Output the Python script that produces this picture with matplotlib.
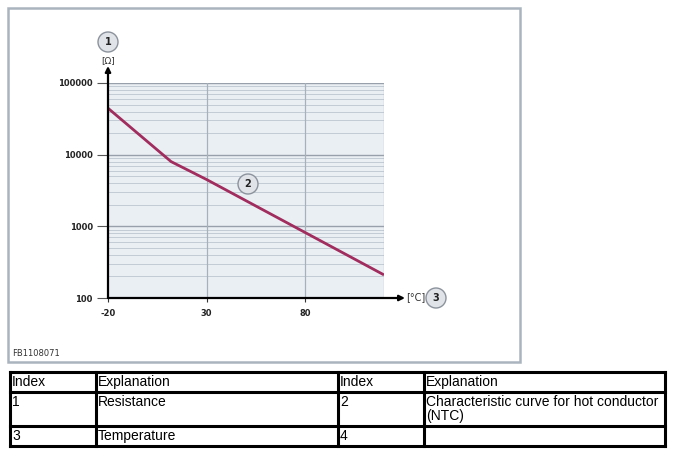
import numpy as np
import matplotlib
matplotlib.use("Agg")
import matplotlib.pyplot as plt
from matplotlib.patches import Rectangle, Ellipse
from matplotlib.lines import Line2D

W, H = 673, 457

# curve data
temp = [-20, 12, 30, 80, 120]          # °C
resist = [44500, 8000, 4500, 820, 210]  # Ohm

x_ticks = [-20, 30, 80]
y_ticks = [100, 1000, 10000, 100000]
v_grid = [30, 80, 120]

# table content
table_rows = [
    ["Index", "Explanation", "Index", "Explanation"],
    ["1", "Resistance", "2", "Characteristic curve for hot conductor\n(NTC)"],
    ["3", "Temperature", "4", ""],
]
col_x = [10, 96, 338, 424, 665]
row_y = [372, 392, 426, 446]


def fx(x):
    return x / W


def fy(y):
    return 1 - y / H


fig = plt.figure(figsize=(W / 100, H / 100), dpi=100)
fig.patch.set_facecolor("white")

# plot area in pixels
L, R, T, B = 108, 384, 83, 298
ax = fig.add_axes([fx(L), fy(B), (R - L) / W, (B - T) / H])
ax.set_yscale("log")
ax.set_xlim(-20, 120)
ax.set_ylim(100, 100000)
ax.set_facecolor("#eaeff4")

# horizontal grid
for dec in [100, 1000, 10000]:
    for m in range(2, 10):
        ax.axhline(dec * m, color="#c2cad3", lw=0.7, zorder=1)
for yv in y_ticks[1:]:
    ax.axhline(yv, color="#98a1ab", lw=1.0, zorder=1)
for xv in v_grid:
    ax.axvline(xv, color="#a8b0ba", lw=0.9, zorder=1)

ax.plot(temp, resist, color="#a12c5e", lw=2.0, zorder=3, solid_capstyle="butt")

for s in ["top", "right", "left", "bottom"]:
    ax.spines[s].set_visible(False)

ax.set_xticks(x_ticks)
ax.set_xticklabels([str(v) for v in x_ticks])
ax.set_yticks(y_ticks)
ax.set_yticklabels([str(v) for v in y_ticks])
ax.minorticks_off()
ax.tick_params(axis="y", length=8, width=0.8, color="#555555", pad=3,
               labelsize=6, labelcolor="#222222")
ax.tick_params(axis="x", length=3, width=0.8, color="#333333", pad=5,
               labelsize=6, labelcolor="#222222")
for lab in ax.get_xticklabels() + ax.get_yticklabels():
    lab.set_fontweight("bold")

# axis arrows
ax.annotate("", xy=(0, (B - 66) / (B - T)), xytext=(0, 0),
            xycoords="axes fraction", textcoords="axes fraction",
            arrowprops=dict(arrowstyle="-|>", color="black", lw=1.6,
                            mutation_scale=8, shrinkA=0, shrinkB=0))
ax.annotate("", xy=((405 - L) / (R - L), 0), xytext=(0, 0),
            xycoords="axes fraction", textcoords="axes fraction",
            arrowprops=dict(arrowstyle="-|>", color="black", lw=1.6,
                            mutation_scale=8, shrinkA=0, shrinkB=0))


def bubble(x, y, txt):
    r = 10
    e = Ellipse((fx(x), fy(y)), 2 * r / W, 2 * r / H, transform=fig.transFigure,
                facecolor="#e0e3e8", edgecolor="#8c939c", lw=1.0, zorder=5)
    fig.add_artist(e)
    fig.text(fx(x), fy(y), txt, ha="center", va="center", fontsize=7,
             fontweight="bold", color="#222222", zorder=6)


bubble(108, 42, "1")
bubble(248, 184, "2")
bubble(436, 298, "3")
fig.text(fx(108), fy(61), "[\u03a9]", ha="center", va="center", fontsize=6.5,
         color="#333333")
fig.text(fx(416), fy(297), "[\u00b0C]", ha="center", va="center", fontsize=7,
         color="#333333")

# outer frame
fig.add_artist(Rectangle((fx(8), fy(362)), (520 - 8) / W, (362 - 8) / H,
                         transform=fig.transFigure, facecolor="none",
                         edgecolor="#aab4be", lw=1.8))
fig.text(fx(12), fy(353), "FB1108071", ha="left", va="center", fontsize=6,
         color="#333333")

# table
for yv in row_y:
    fig.add_artist(Line2D([fx(col_x[0]), fx(col_x[-1])], [fy(yv), fy(yv)],
                          transform=fig.transFigure, color="black", lw=2.2))
for xv in col_x:
    fig.add_artist(Line2D([fx(xv), fx(xv)], [fy(row_y[0]), fy(row_y[-1])],
                          transform=fig.transFigure, color="black", lw=2.2))
for i, row in enumerate(table_rows):
    for j, cell in enumerate(row):
        if not cell:
            continue
        fig.text(fx(col_x[j] + 2), fy(row_y[i] + 3), cell, ha="left", va="top",
                 fontsize=10, family="Liberation Sans", color="black",
                 linespacing=1.0)

fig.savefig("out.png", dpi=100)
